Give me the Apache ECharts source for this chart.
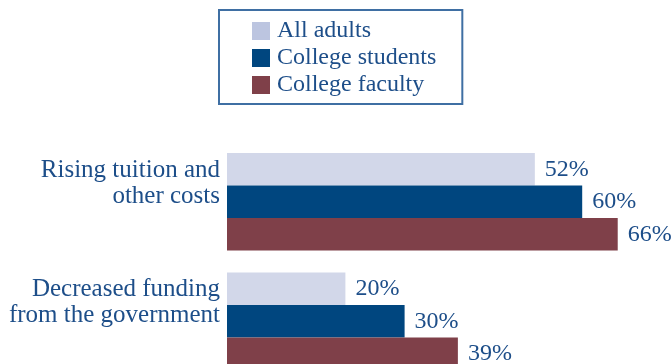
<!DOCTYPE html>
<html>
<head>
<meta charset="utf-8">
<script src="https://cdn.jsdelivr.net/npm/echarts@6/dist/echarts.min.js"></script>
<style>
  html, body { margin: 0; padding: 0; background: #ffffff; }
  #chart { width: 671px; height: 364px; }
</style>
</head>
<body>
<div id="chart"></div>
<script>
// Concerns about college affordability, share of respondents (%)
const categories = ['Rising tuition and\nother costs', 'Decreased funding\nfrom the government'];
const seriesNames = ['All adults', 'College students', 'College faculty'];
const allAdults = [52, 20];
const collegeStudents = [60, 30];
const collegeFaculty = [66, 39];

const FONT = '"Liberation Serif", "DejaVu Serif", serif';
const TEXT = '#1d4e89';
const colors = ['#d2d7e9', '#00467f', '#7f4049'];
const legendIconColors = ['#bcc5e0', '#00467f', '#7f4049'];

const chart = echarts.init(document.getElementById('chart'), null, { renderer: 'canvas' });

const values = [allAdults, collegeStudents, collegeFaculty];

chart.setOption({
  animation: false,
  backgroundColor: '#ffffff',
  legend: {
    orient: 'vertical',
    left: 219,
    top: 10,
    padding: [9, 26, 7, 33],
    borderColor: '#3f6fa3',
    borderWidth: 2,
    itemWidth: 18,
    itemHeight: 18,
    itemGap: 3,
    icon: 'rect',
    textStyle: {
      fontFamily: FONT,
      fontSize: 24,
      color: TEXT,
      padding: [0, 0, 0, 2]
    },
    data: seriesNames.map((n, i) => ({ name: n, itemStyle: { color: legendIconColors[i] } }))
  },
  grid: {
    left: 227,
    top: 142,
    right: 0,
    height: 239,
    outerBoundsMode: 'none',
    containLabel: false
  },
  xAxis: {
    type: 'value',
    min: 0,
    max: 75,
    show: false
  },
  yAxis: {
    type: 'category',
    data: categories,
    inverse: true,
    axisLine: { show: false },
    axisTick: { show: false },
    splitLine: { show: false },
    axisLabel: {
      margin: 7,
      fontFamily: FONT,
      fontSize: 25,
      lineHeight: 26,
      color: TEXT,
      align: 'right',
      // an empty trailing line lifts the two text lines toward the top bars
      formatter: (v) => v + '\n{s| }',
      rich: {
        s: { fontSize: 10, lineHeight: 37 }
      }
    }
  },
  series: seriesNames.map((name, i) => ({
    name: name,
    type: 'bar',
    data: values[i],
    barWidth: 32.5,
    barGap: '0%',
    itemStyle: { color: colors[i] },
    label: {
      show: true,
      position: 'right',
      distance: 10,
      formatter: '{c}%',
      fontFamily: FONT,
      fontSize: 24,
      color: TEXT
    }
  }))
});
</script>
</body>
</html>
